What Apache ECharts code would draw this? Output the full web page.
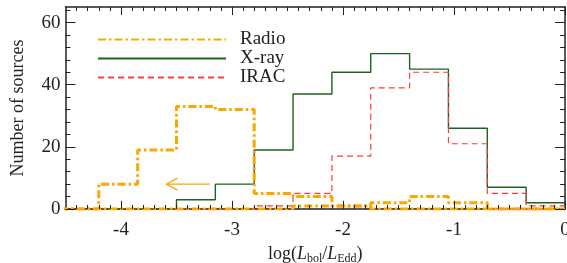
<!DOCTYPE html>
<html>
<head>
<meta charset="utf-8">
<script src="https://cdn.jsdelivr.net/npm/echarts@6/dist/echarts.min.js"></script>
<style>
html, body { margin: 0; padding: 0; background: #fff; }
#main { width: 567px; height: 263px; }
</style>
</head>
<body>
<div id="main"></div>
<script>
// histogram bins (left edges), last bin ends at binEnd
var binStart = [-4.55, -4.2, -3.85, -3.5, -3.15, -2.8, -2.45, -2.1, -1.75, -1.4, -1.05, -0.7, -0.35];
var binEnd = 0;
var radioCounts = [0, 8, 19, 33, 32, 5, 4, 1, 2, 4, 2, 0, 0];
var radioLowCounts = [0, 0, 0, 0, 0, 0, 1, 1, 0, 0, 0, 0, 0];
var xrayCounts = [0, 0, 0, 3, 8, 19, 37, 44, 50, 45, 26, 7, 2];
var iracCounts = [0, 0, 0, 0, 0, 1, 5, 17, 39, 44, 21, 5, 1];
var xTickLabels = [-4, -3, -2, -1, 0];
var yTickLabels = [0, 20, 40, 60];
// upper-limit arrow: [x from, x to, y]
var arrowData = [[-3.2, -3.59, 8]];

var xMin = -4.5, xMax = 0, yMin = 0, yMax = 65;
var xMinorStep = 0.1, yMinorStep = 4;
// tick lengths, in data units of the crossing axis
var xTickLen = { minor: 1.3, major: 2.6 };
var yTickLen = { minor: 0.045, major: 0.09 };

var font = "'Liberation Serif', 'DejaVu Serif', serif";
var ink = '#222';

function stepData(counts) {
    var d = [];
    for (var i = 0; i < counts.length; i++) {
        d.push([binStart[i], counts[i]]);
    }
    d.push([binEnd, counts[counts.length - 1]]);
    d.push([binEnd, 0]);
    return d;
}

// inward ticks on all four sides, as short mark lines
var tickLines = [];
function addXTick(v, len) {
    tickLines.push([{ coord: [v, yMin] }, { coord: [v, yMin + len] }]);
    tickLines.push([{ coord: [v, yMax] }, { coord: [v, yMax - len] }]);
}
function addYTick(v, len) {
    tickLines.push([{ coord: [xMin, v] }, { coord: [xMin + len, v] }]);
    tickLines.push([{ coord: [xMax, v] }, { coord: [xMax - len, v] }]);
}
for (var k = 1; xMin + k * xMinorStep < xMax - 1e-9; k++) {
    addXTick(+(xMin + k * xMinorStep).toFixed(2), xTickLen.minor);
}
xTickLabels.forEach(function (v) { addXTick(v, xTickLen.major); });
for (var j = 1; yMin + j * yMinorStep < yMax; j++) {
    addYTick(yMin + j * yMinorStep, yTickLen.minor);
}
yTickLabels.forEach(function (v) { addYTick(v, yTickLen.major); });

var myChart = echarts.init(document.getElementById('main'));

var frameLine = { show: true, onZero: false, lineStyle: { color: ink, width: 1.5 } };
var noTick = { show: false };

var option = {
    animation: false,
    backgroundColor: '#fff',
    grid: { left: 65.5, right: 2, top: 7, bottom: 54, containLabel: false, outerBoundsMode: 'none' },
    xAxis: [
        {
            type: 'value', position: 'bottom', min: xMin, max: xMax, interval: xMinorStep,
            splitLine: { show: false },
            axisLine: frameLine,
            axisTick: noTick,
            axisLabel: { show: true, customValues: xTickLabels, margin: 12, fontFamily: font, fontSize: 19, color: ink },
            name: '{n|log(}{i|L}{s|bol}{n|/}{i|L}{s|Edd}{n|)}',
            nameLocation: 'middle',
            nameGap: 34,
            nameTextStyle: {
                rich: {
                    n: { fontFamily: font, fontSize: 18, color: ink },
                    i: { fontFamily: font, fontSize: 18, fontStyle: 'italic', color: ink },
                    s: { fontFamily: font, fontSize: 12, color: ink, padding: [9, 0, 0, 0] }
                }
            }
        },
        {
            type: 'value', position: 'top', min: xMin, max: xMax, interval: xMinorStep,
            splitLine: { show: false },
            axisLine: frameLine,
            axisTick: noTick,
            axisLabel: { show: false }
        }
    ],
    yAxis: [
        {
            type: 'value', position: 'left', min: yMin, max: yMax, interval: yMinorStep,
            splitLine: { show: false },
            axisLine: frameLine,
            axisTick: noTick,
            axisLabel: { show: true, customValues: yTickLabels, margin: 5, fontFamily: font, fontSize: 19, color: ink },
            name: 'Number of sources',
            nameLocation: 'middle',
            nameRotate: 90,
            nameGap: 38,
            nameTextStyle: { fontFamily: font, fontSize: 18, color: ink }
        },
        {
            type: 'value', position: 'right', min: yMin, max: yMax, interval: yMinorStep,
            splitLine: { show: false },
            axisLine: frameLine,
            axisTick: noTick,
            axisLabel: { show: false }
        }
    ],
    legend: {
        data: ['Radio', 'X-ray', 'IRAC'],
        orient: 'vertical',
        left: 97,
        top: 30,
        padding: 0,
        itemGap: 0,
        itemWidth: 128,
        itemHeight: 10,
        itemStyle: { opacity: 0 },
        textStyle: { fontFamily: font, fontSize: 19, lineHeight: 19, color: ink, padding: [0, 0, 0, 9] }
    },
    series: [
        {
            name: 'X-ray', type: 'line', step: 'end', symbol: 'none',
            data: stepData(xrayCounts),
            itemStyle: { color: '#1e621e' },
            lineStyle: { color: '#1e621e', width: 1.4 },
            markLine: {
                silent: true,
                symbol: ['none', 'none'],
                label: { show: false },
                lineStyle: { color: ink, width: 1, type: 'solid' },
                emphasis: { disabled: true },
                data: tickLines
            }
        },
        {
            name: 'IRAC', type: 'line', step: 'end', symbol: 'none',
            data: stepData(iracCounts),
            itemStyle: { color: '#ff3b3b' },
            lineStyle: { color: '#ff3b3b', width: 1.2, type: [6, 4] }
        },
        {
            name: 'Radio', type: 'line', step: 'end', symbol: 'none',
            data: stepData(radioLowCounts),
            itemStyle: { color: '#FFA500' },
            lineStyle: { color: '#FFA500', width: 3, type: [8, 3, 2.5, 3] }
        },
        {
            name: 'Radio', type: 'line', step: 'end', symbol: 'none',
            data: stepData(radioCounts),
            itemStyle: { color: '#FFA500' },
            lineStyle: { color: '#FFA500', width: 3, type: [8, 3, 2.5, 3] }
        },
        {
            name: 'limit', type: 'custom',
            data: arrowData,
            renderItem: function (params, api) {
                var a = api.coord([api.value(0), api.value(2)]);
                var b = api.coord([api.value(1), api.value(2)]);
                var st = { stroke: '#FFA500', lineWidth: 1.3, fill: null };
                return {
                    type: 'group',
                    children: [
                        { type: 'polyline', shape: { points: [a, b] }, style: st },
                        { type: 'polyline', shape: { points: [[b[0] + 11, b[1] - 6], b, [b[0] + 11, b[1] + 6]] }, style: st }
                    ]
                };
            }
        }
    ]
};

myChart.setOption(option);
window.addEventListener('resize', function () {
    myChart.resize();
});
</script>
</body>
</html>
